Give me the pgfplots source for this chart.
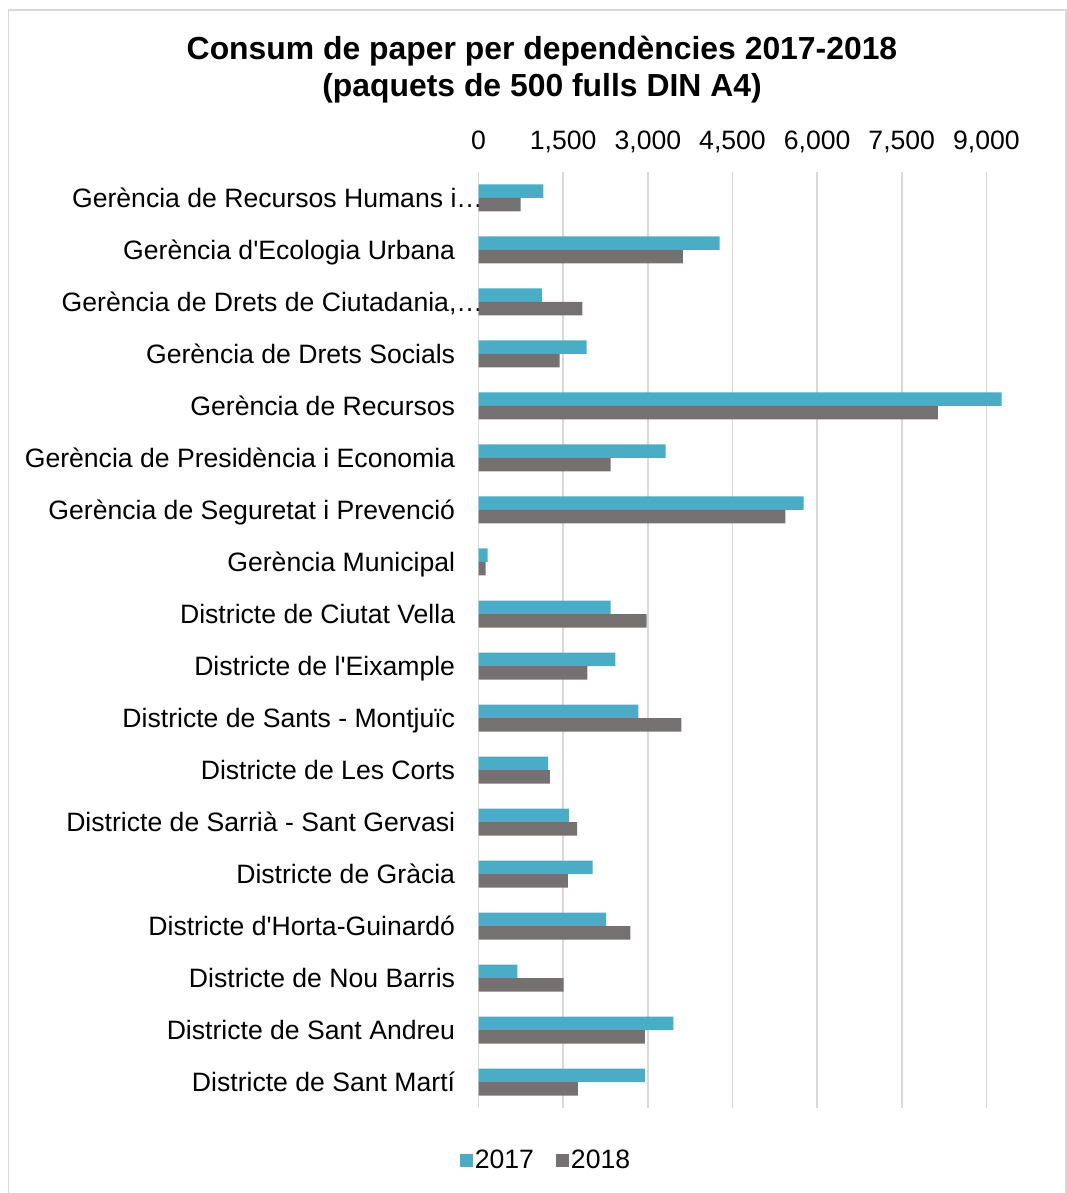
\documentclass[border=0pt]{standalone}
\usepackage{fontspec}
\setmainfont{Liberation Sans}[Ligatures=TeXOff]
\usepackage{pgfplots}
\pgfplotsset{compat=1.18}
\definecolor{c17}{HTML}{4BACC6}
\definecolor{c18}{HTML}{767171}
\definecolor{gridc}{HTML}{D9D9D9}
\begin{document}
\begin{tikzpicture}[x=1bp,y=1bp]
\path[use as bounding box] (0,0) rectangle (1067,1193);
\draw[gridc, line width=1.2bp] (8.5,0) -- (8.5,1183) -- (1066,1183) -- (1066,0);
\node[font=\fontsize{32}{37}\selectfont\bfseries, align=center] at (542,1123.5)
  {Consum de paper per dependències 2017-2018\\(paquets de 500 fulls DIN A4)};
\begin{axis}[
  at={(478.6bp,85bp)}, anchor=south west,
  scale only axis, width=536bp, height=936bp,
  xbar, xmin=0, xmax=9500, ymin=-0.5, ymax=17.5, y dir=reverse,
  xtick={0,1500,3000,4500,6000,7500,9000},
  xticklabel pos=upper,
  ytick={0,...,17},
  yticklabels={{Gerència de Recursos Humans i…\hspace*{-28bp}},
    {Gerència d'Ecologia Urbana},
    {Gerència de Drets de Ciutadania,…\hspace*{-28bp}},
    {Gerència de Drets Socials},
    {Gerència de Recursos},
    {Gerència de Presidència i Economia},
    {Gerència de Seguretat i Prevenció},
    {Gerència Municipal},
    {Districte de Ciutat Vella},
    {Districte de l'Eixample},
    {Districte de Sants - Montjuïc},
    {Districte de Les Corts},
    {Districte de Sarrià - Sant Gervasi},
    {Districte de Gràcia},
    {Districte d'Horta-Guinardó},
    {Districte de Nou Barris},
    {Districte de Sant Andreu},
    {Districte de Sant Martí}},
  axis line style={draw=none}, major tick length=0pt,
  xmajorgrids, grid style={gridc, line width=1.5bp},
  tick label style={font=\fontsize{26.7}{30}\selectfont},
  xticklabel style={anchor=base, yshift=22bp},
  yticklabel style={anchor=base east, xshift=-20bp, yshift=-9.5bp},
  /pgf/number format/1000 sep={,},
  /pgf/number format/assume math mode=true,
  legend columns=2,
  legend style={draw=none, at={(0.1257,-0.0556)}, anchor=center,
    font=\fontsize{26.7}{30}\selectfont,
    /tikz/every even column/.append style={column sep=20bp}},
  legend image code/.code={\fill[#1] (0bp,-6.5bp) rectangle (13bp,6.5bp);},
]
\addplot[fill=c17, draw=none, bar width=13.5bp, bar shift=6.75bp] coordinates {
(1147,0) (4272,1) (1123,2) (1915,3) (9271,4) (3316,5) (5759,6) (158,7) (2341,8)
(2422,9) (2830,10) (1230,11) (1602,12) (2022,13) (2258,14) (686,15) (3450,16) (2949,17)};
\addplot[fill=c18, draw=none, bar width=13.5bp, bar shift=-6.75bp] coordinates {
(746,0) (3622,1) (1838,2) (1437,3) (8139,4) (2341,5) (5436,6) (126,7) (2979,8)
(1926,9) (3592,10) (1265,11) (1744,12) (1584,13) (2688,14) (1508,15) (2949,16) (1761,17)};
\legend{2017,2018}
\end{axis}
\end{tikzpicture}
\end{document}
